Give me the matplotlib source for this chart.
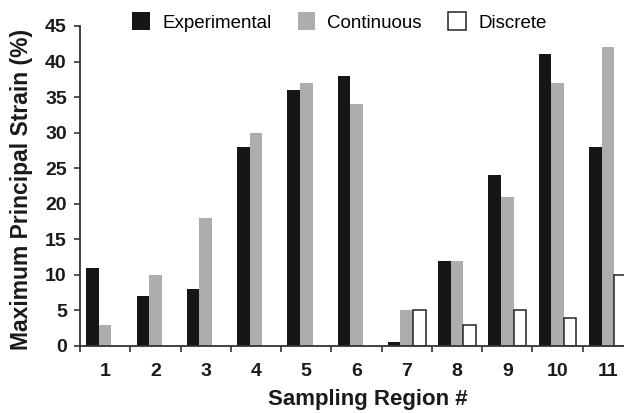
import matplotlib.pyplot as plt
import numpy as np

plt.rcParams['font.family'] = ['Liberation Sans', 'DejaVu Sans']

# Sampling regions and strain values (%)
regions = ['1', '2', '3', '4', '5', '6', '7', '8', '9', '10', '11']
experimental = [11, 7, 8, 28, 36, 38, 0.5, 12, 24, 41, 28]
continuous = [3, 10, 18, 30, 37, 34, 5, 12, 21, 37, 42]
discrete = [0, 0, 0, 0, 0, 0, 5, 3, 5, 4, 10]

W, H = 624, 413
fig = plt.figure(figsize=(W / 100, H / 100), dpi=100)
# axes runs past the right edge of the figure, as in the reference
ax = fig.add_axes([80 / W, (H - 346) / H, 553 / W, 320 / H])

x = np.arange(len(regions))
bw = 0.25
ax.bar(x + 0.25, experimental, bw, color='#161616', label='Experimental', zorder=2)
ax.bar(x + 0.50, continuous, bw, color='#adadad', label='Continuous', zorder=2)
d = np.array(discrete, dtype=float)
keep = d > 0
ax.bar((x + 0.75)[keep], d[keep], bw, color='white', edgecolor='#222222',
       linewidth=1.1, label='Discrete', zorder=2)

ax.set_xlim(0, len(regions))
ax.set_ylim(0, 45)
ax.set_yticks(np.arange(0, 46, 5))

# ticks at region boundaries, labels at region centres
ax.set_xticks(np.arange(0, len(regions) + 1))
ax.set_xticklabels([])
ax.set_xticks(x + 0.5, minor=True)
ax.set_xticklabels(regions, minor=True)
ax.tick_params(axis='x', which='major', direction='out', length=4, width=1.2, color='#333333')
ax.tick_params(axis='x', which='minor', length=0, pad=12, labelsize=14)
ax.tick_params(axis='y', direction='out', length=4.5, width=1.2, color='#333333',
               pad=5, labelsize=14)
for lab in ax.get_xticklabels(minor=True) + ax.get_yticklabels():
    lab.set_fontweight('bold')
    lab.set_color('#1a1a1a')

for side in ['top', 'right']:
    ax.spines[side].set_visible(False)
for side in ['left', 'bottom']:
    ax.spines[side].set_color('#333333')
    ax.spines[side].set_linewidth(1.3)

ax.set_xlabel('Sampling Region #', fontsize=16, fontweight='bold', color='#1a1a1a')
ax.xaxis.set_label_coords(0.52, -0.133)
ax.set_ylabel('Maximum Principal Strain (%)', fontsize=16.5, fontweight='bold', color='#1a1a1a')
ax.yaxis.set_label_coords(-0.085, 0.49)

fig.legend(loc='center left', bbox_to_anchor=(132 / W, 1 - 22 / H), ncol=3,
           frameon=False, fontsize=13.5, handlelength=0.95, handleheight=1.1,
           handletextpad=0.65, columnspacing=1.4, borderpad=0, borderaxespad=0)

fig.savefig('out.png', dpi=100)
